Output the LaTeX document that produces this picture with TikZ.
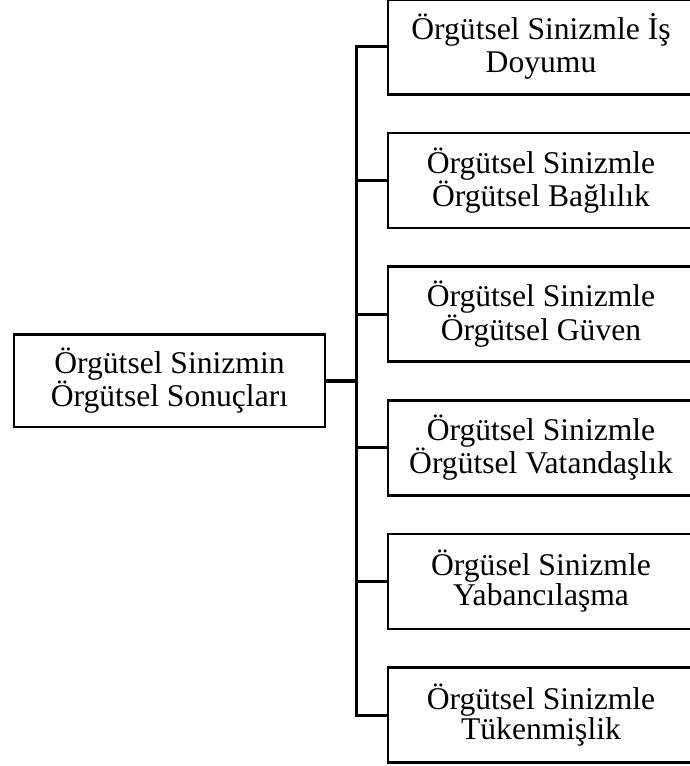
\documentclass[tikz,border=0pt]{standalone}
\usepackage{fontspec}
\setmainfont{Liberation Serif}
\begin{document}
\begin{tikzpicture}[
        x=1pt, y=-1pt,
        box/.style={draw, line width=2.6pt, inner sep=0pt, align=center,
            minimum width=306, minimum height=95,
            font=\fontsize{31.6}{30}\selectfont},
        link/.style={line width=3pt},
        mainlink/.style={line width=4pt}
    ]
    \useasboundingbox (0,0) rectangle (690,766);

    \node[box, minimum width=311, minimum height=92.5] (root) at (169.5,380.7)
        {Örgütsel Sinizmin\\Örgütsel Sonuçları};

    \foreach \i/\txt in {1/{Örgütsel Sinizmle İş\\[3pt]Doyumu},
                         2/{Örgütsel Sinizmle\\Örgütsel Bağlılık},
                         3/{Örgütsel Sinizmle\\Örgütsel Güven},
                         4/{Örgütsel Sinizmle\\Örgütsel Vatandaşlık},
                         5/{Örgüsel Sinizmle\\Yabancılaşma},
                         6/{Örgütsel Sinizmle\\Tükenmişlik}} {
        \node[box] (res\i) at (541,{46.7+(\i-1)*133.7}) {\txt};
    }

    \coordinate (hub) at (356,380.7);
    \draw[mainlink] (root.east) -- (hub);
    \foreach \i in {1,...,6} {
        \draw[link] (res\i.west) -| (hub);
    }
\end{tikzpicture}
\end{document}
